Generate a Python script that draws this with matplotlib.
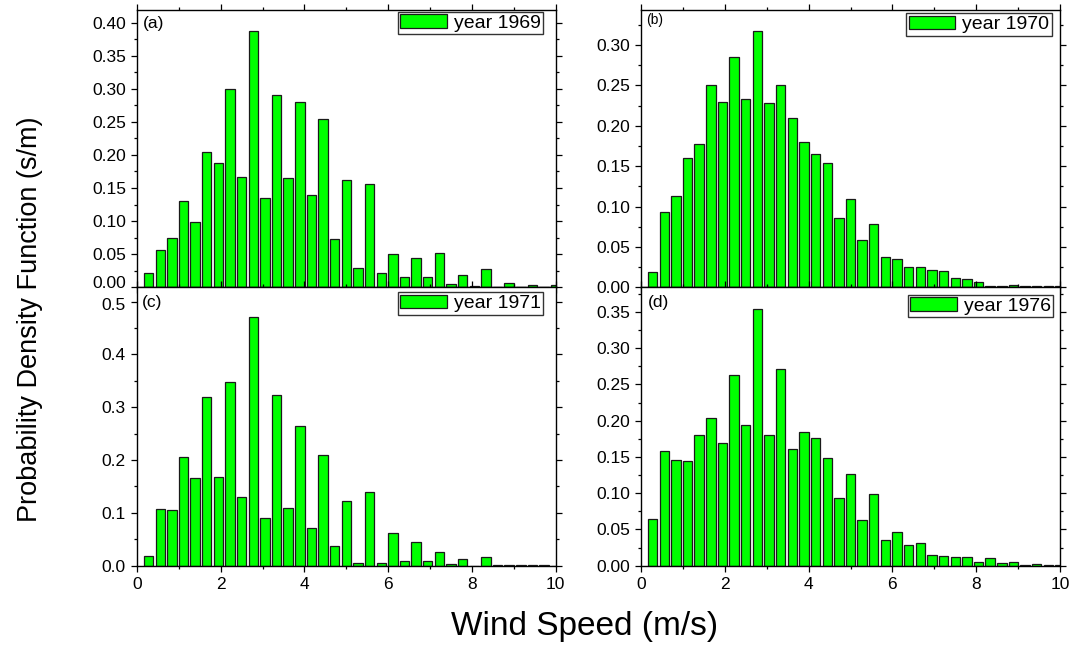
import numpy as np
import matplotlib
matplotlib.use('Agg')
import matplotlib.pyplot as plt
from matplotlib.ticker import MultipleLocator, FormatStrFormatter, FuncFormatter

plt.rcParams['font.family'] = ['Liberation Sans', 'DejaVu Sans']

# bin centres: 1 km/h bins, converted to m/s
kmh = np.arange(1, 37)
speed = kmh / 3.6

pdf_1969 = [0.021, 0.057, 0.074, 0.131, 0.098, 0.204, 0.188, 0.300, 0.167, 0.388,
            0.135, 0.290, 0.165, 0.280, 0.139, 0.254, 0.073, 0.162, 0.029, 0.156,
            0.021, 0.051, 0.016, 0.044, 0.015, 0.052, 0.005, 0.019, 0.002, 0.028,
            0.001, 0.006, 0.001, 0.004, 0.000, 0.003]
pdf_1970 = [0.019, 0.093, 0.113, 0.160, 0.178, 0.250, 0.230, 0.285, 0.233, 0.318,
            0.228, 0.251, 0.210, 0.180, 0.165, 0.154, 0.086, 0.109, 0.059, 0.078,
            0.037, 0.035, 0.025, 0.025, 0.021, 0.020, 0.012, 0.010, 0.007, 0.002,
            0.002, 0.003, 0.001, 0.001, 0.001, 0.001]
pdf_1971 = [0.018, 0.108, 0.106, 0.206, 0.166, 0.319, 0.168, 0.348, 0.130, 0.470,
            0.090, 0.323, 0.110, 0.264, 0.072, 0.209, 0.037, 0.123, 0.006, 0.140,
            0.006, 0.061, 0.009, 0.044, 0.009, 0.025, 0.003, 0.013, 0.000, 0.016,
            0.001, 0.002, 0.001, 0.001, 0.001, 0.000]
pdf_1976 = [0.065, 0.158, 0.146, 0.145, 0.180, 0.204, 0.169, 0.263, 0.194, 0.354,
            0.180, 0.271, 0.161, 0.184, 0.176, 0.148, 0.093, 0.126, 0.063, 0.099,
            0.036, 0.046, 0.028, 0.032, 0.015, 0.014, 0.012, 0.012, 0.005, 0.011,
            0.004, 0.005, 0.001, 0.002, 0.001, 0.001]

years = ['1969', '1970', '1971', '1976']
panel_tags = ['(a)', '(b)', '(c)', '(d)']
series = [pdf_1969, pdf_1970, pdf_1971, pdf_1976]
ytops = [0.419, 0.3435, 0.527, 0.384]
ysteps = [0.05, 0.05, 0.1, 0.05]
yfmts = ['%.2f', '%.2f', '%.1f', '%.2f']
# left column: the tick labels where (a) meets (c) are nudged apart
nudged = {0: (0.0, '0.00', 3), 2: (0.5, '0.5', -3)}

W, H = 1073, 646
fig = plt.figure(figsize=(W / 100, H / 100), dpi=100)


def rect(l, r, t, b):
    return [l / W, 1 - b / H, (r - l) / W, (b - t) / H]


boxes = [rect(137, 555.7, 10, 287.3), rect(641, 1060, 10, 287.3),
         rect(137, 555.7, 287.3, 565.7), rect(641, 1060, 287.3, 565.7)]
leg_anchor = [(0.970, 0.994), (0.980, 0.988), (0.970, 0.982), (0.983, 0.972)]
tag_pos = [(0.013, 0.953, 12.5), (0.012, 0.964, 10), (0.012, 0.947, 12.5), (0.017, 0.947, 12.5)]
tick_fs = 12.5

for i in range(4):
    ax = fig.add_axes(boxes[i])
    ax.bar(speed, series[i], width=0.225, color='#00ff00', edgecolor='#1a1a1a',
           linewidth=0.9, label='year ' + years[i])
    ax.set_xlim(0, 10)
    ax.set_ylim(0, ytops[i])
    ax.xaxis.set_major_locator(MultipleLocator(2))
    ax.xaxis.set_minor_locator(MultipleLocator(1))
    ax.yaxis.set_major_locator(MultipleLocator(ysteps[i]))
    ax.yaxis.set_minor_locator(MultipleLocator(ysteps[i] / 2))
    if i in nudged:
        skip_val, skip_txt, dy = nudged[i]
        fmt = yfmts[i]
        ax.yaxis.set_major_formatter(FuncFormatter(
            lambda v, p, s=skip_val, f=fmt: '' if abs(v - s) < 1e-9 else f % v))
        ax.annotate(skip_txt, xy=(0, skip_val), xycoords=('axes fraction', 'data'),
                    xytext=(-8, dy), textcoords='offset points', ha='right',
                    va='center', fontsize=tick_fs)
    else:
        ax.yaxis.set_major_formatter(FormatStrFormatter(yfmts[i]))
    ax.tick_params(which='both', direction='out', top=True, right=True,
                   labelsize=tick_fs, width=0.9)
    ax.tick_params(which='major', length=4.5, pad=3.5)
    ax.tick_params(which='minor', length=2.5)
    if i < 2:
        ax.tick_params(labelbottom=False)
    for sp in ax.spines.values():
        sp.set_linewidth(1.0)
    tx, ty, ts = tag_pos[i]
    ax.text(tx, ty, panel_tags[i], transform=ax.transAxes, fontsize=ts,
            ha='left', va='center')
    leg = ax.legend(loc='upper right', bbox_to_anchor=leg_anchor[i],
                    borderaxespad=0, fontsize=14, frameon=True, fancybox=False,
                    handlelength=2.4, handleheight=0.7, handletextpad=0.35,
                    borderpad=0.12)
    leg.get_frame().set_edgecolor('black')
    leg.get_frame().set_linewidth(1.0)

fig.text(0.028, 1 - 319 / H, 'Probability Density Function (s/m)', rotation=90,
         ha='center', va='center', fontsize=19.5)
fig.text(585 / W, 1 - 626 / H, 'Wind Speed (m/s)', ha='center', va='center',
         fontsize=24)

fig.savefig('out.png', dpi=100)
